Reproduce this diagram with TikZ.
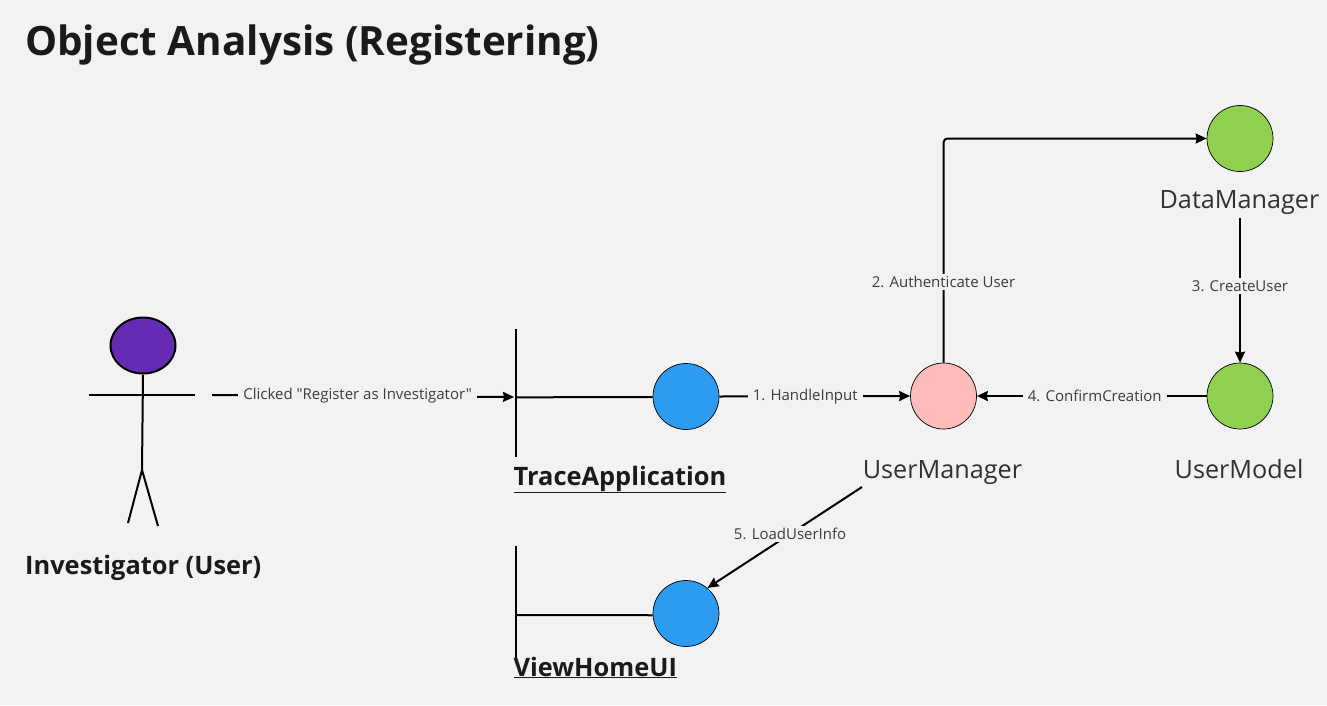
\documentclass[tikz,border=0pt]{standalone}
\usepackage{fontspec}
\setmainfont{Open Sans}[Ligatures=TeXOff]
\usetikzlibrary{positioning}
\usetikzlibrary{shapes.geometric, arrows.meta}
\definecolor{fondo}{HTML}{F2F2F2}
\definecolor{tinta}{HTML}{1A1A1A}
\definecolor{morado}{HTML}{652CB3}
\definecolor{azul}{HTML}{2D9BF0}
\definecolor{verde}{HTML}{8FD14F}
\definecolor{rosa}{HTML}{FFBABA}
\newcommand{\tamano}[1]{\fontsize{#1}{#1}\selectfont}
\tikzset{
  objeto/.style={circle, draw=black, line width=0.7pt, minimum size=66pt, inner sep=0pt},
  linea/.style={line width=2pt, black},
  flecha/.style={linea, -{Stealth[length=11pt, width=10pt, inset=1pt]}},
  mensaje/.style={fill=fondo, text=tinta!85, font=\tamano{15}, inner xsep=5pt, inner ysep=2pt},
  nombre/.style={text=tinta!90, font=\tamano{25.2}, anchor=base, inner sep=0pt},
  clase/.style={text=tinta, font=\tamano{25.4}\bfseries, anchor=base west, inner sep=0pt},
}

\begin{document}
\begin{tikzpicture}[x=1pt, y=-1pt]
  % Fondo
  \fill[fondo] (0,0) rectangle (1327,705);

  % Titulo
  \node[text=tinta, font=\tamano{40.4}\bfseries, anchor=base west, inner sep=0pt] (titulo) at (25,55.5) {Object Analysis (Registering)};

  % Actor
  \node[ellipse, draw=black, line width=2pt, fill=morado, minimum width=65pt, minimum height=56pt, inner sep=0pt] (cabeza) at (143,345.5) {};
  \coordinate (cadera) at (142,470);
  \coordinate (brazoizq) at (89,395);
  \coordinate (brazoder) at (195,395);
  \coordinate (pieizq) at (128,523);
  \coordinate (pieder) at (158,526);
  \draw[linea] (cabeza.south) -- (cadera);
  \draw[linea] (brazoizq) -- (brazoder);
  \draw[linea] (pieizq) -- (cadera) -- (pieder);
  \node[clase] (actor) at (25,574) {Investigator (User)};

  % Objetos
  \node[objeto, fill=azul] (traceapp) at (686,396.5) {};
  \node[objeto, fill=azul] (viewhome) at (686,613.5) {};
  \node[objeto, fill=rosa] (usermanager) at (943.5,396) {};
  \node[objeto, fill=verde] (usermodel) at (1240,396) {};
  \node[objeto, fill=verde] (datamanager) at (1240,138.5) {};

  % Etiquetas
  \node[clase] (tracelabel) at (513.5,485) {\underline{TraceApplication}};
  \node[clase] (viewlabel) at (513.5,676) {\underline{ViewHomeUI}};
  \node[nombre] (usermanagerlabel) at (942.5,478) {UserManager};
  \node[nombre] (usermodellabel) at (1239,478) {UserModel};
  \node[nombre] (datamanagerlabel) at (1239.5,208) {DataManager};

  % Fronteras
  \coordinate (tracearriba) at (516,329);
  \coordinate (traceabajo) at (516,457);
  \coordinate (tracemedio) at (516,397.3);
  \coordinate (viewarriba) at (516,546);
  \coordinate (viewabajo) at (516,658);
  \coordinate (viewmedio) at (516,615);
  \draw[linea] (tracearriba) -- (traceabajo);
  \draw[linea] (tracemedio) -- (traceapp.181);
  \draw[linea] (viewarriba) -- (viewabajo);
  \draw[linea] (viewmedio) -- (viewhome.183);

  % Mensajes
  \coordinate (clickini) at (212,395);
  \coordinate (clickfin) at (514,397);
  \coordinate (loadini) at (862,487);
  \draw[flecha] (clickini) -- node[mensaje, pos=0.482] (clicked) {Clicked "Register as Investigator"} (clickfin);
  \draw[flecha] (traceapp.east) -- node[mensaje, pos=0.45] (handle) {1. HandleInput} (usermanager.west);
  \draw[flecha, rounded corners=4pt] (usermanager.north) -- node[mensaje, pos=0.36] (auth) {2. Authenticate User} (943.5,138.5) -- (datamanager.west);
  \draw[flecha] (1240,218) -- node[mensaje, pos=0.47] (create) {3. CreateUser} (usermodel.north);
  \draw[flecha] (usermodel.west) -- node[mensaje, pos=0.487] (confirm) {4. ConfirmCreation} (usermanager.east);
  \draw[flecha] (loadini) -- node[mensaje, pos=0.465] (load) {5. LoadUserInfo} (viewhome.50);
\end{tikzpicture}
\end{document}
